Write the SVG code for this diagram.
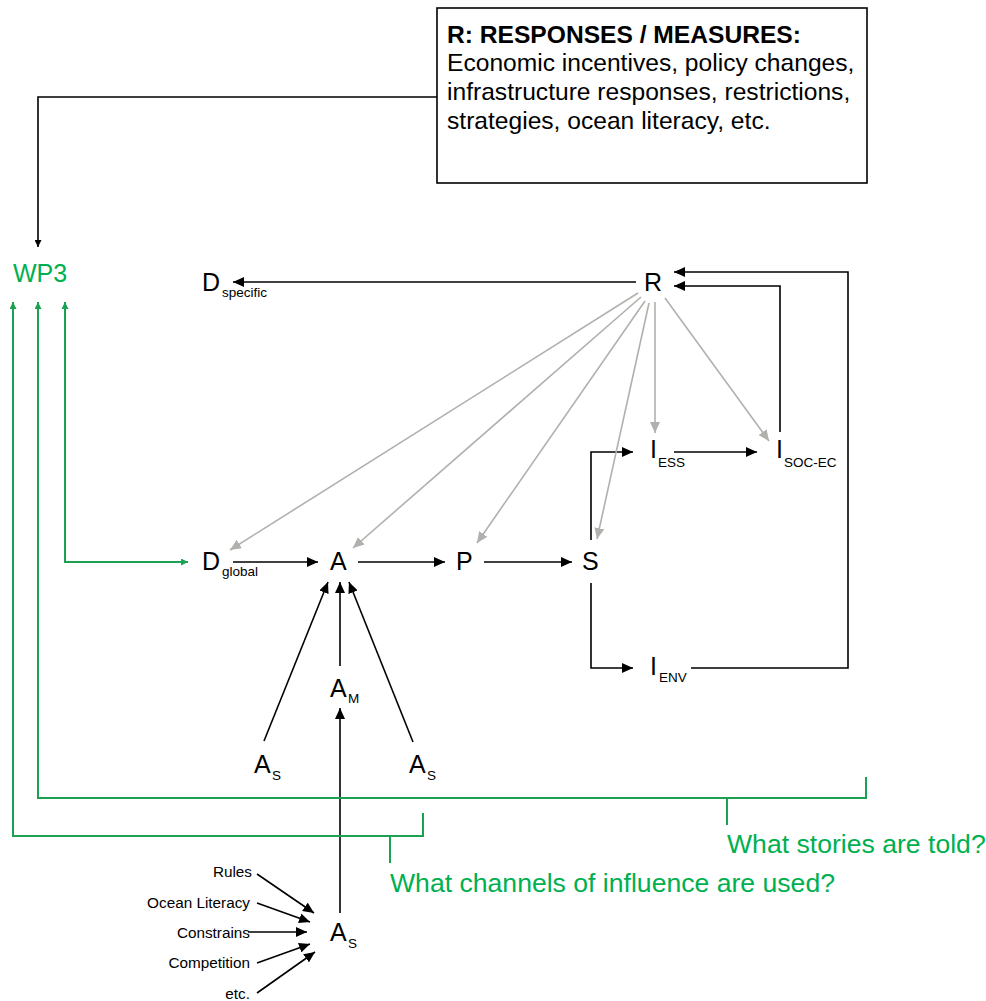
<svg xmlns="http://www.w3.org/2000/svg" width="986" height="1001" viewBox="0 0 986 1001">
<style>
text{font-family:"Liberation Sans",Arial,sans-serif;fill:#000}
.n{font-size:25px}
.sub{font-size:13.5px}
.box{font-size:24.6px}
.g{fill:#00b050}
.q{font-size:26.6px}
.lbl{font-size:15.3px;text-anchor:end}
.k{stroke:#000;stroke-width:1.6;fill:none}
.gr{stroke:#b0b0ad;stroke-width:1.6;fill:none}
.gn{stroke:#1ba152;stroke-width:2;fill:none}
</style>
<defs>
<marker id="ak" markerUnits="userSpaceOnUse" markerWidth="11" markerHeight="10" refX="11" refY="5" orient="auto"><path d="M0,0 L11,5 L0,10 z" fill="#000"/></marker>
<marker id="ag" markerUnits="userSpaceOnUse" markerWidth="11" markerHeight="10" refX="11" refY="5" orient="auto"><path d="M0,0 L11,5 L0,10 z" fill="#b0b0ad"/></marker>
<marker id="aks" markerUnits="userSpaceOnUse" markerWidth="7" markerHeight="7" refX="7" refY="3.5" orient="auto"><path d="M0,0 L7,3.5 L0,7 z" fill="#000"/></marker>
<marker id="agn" markerUnits="userSpaceOnUse" markerWidth="7" markerHeight="7" refX="7" refY="3.5" orient="auto-start-reverse"><path d="M0,0 L7,3.5 L0,7 z" fill="#1ba152"/></marker>
</defs>

<g id="box">
<rect x="437" y="8" width="430" height="175" fill="#fff" stroke="#000" stroke-width="1.6"/>
<text class="box" x="447" y="43" font-weight="bold">R: RESPONSES / MEASURES:</text>
<text class="box" x="447" y="71">Economic incentives, policy changes,</text>
<text class="box" x="447" y="100">infrastructure responses, restrictions,</text>
<text class="box" x="447" y="129">strategies, ocean literacy, etc.</text>
</g>

<g id="WP3"><text class="n g" x="13" y="282" font-size="26">WP3</text></g>
<g id="Dspecific"><text class="n" x="202" y="291">D</text><text class="sub" x="222" y="297">specific</text></g>
<g id="R"><text class="n" x="644" y="291">R</text></g>
<g id="Dglobal"><text class="n" x="202" y="570">D</text><text class="sub" x="222" y="576">global</text></g>
<g id="A"><text class="n" x="330" y="570">A</text></g>
<g id="P"><text class="n" x="456" y="570">P</text></g>
<g id="S"><text class="n" x="582" y="570">S</text></g>
<g id="IESS"><text class="n" x="650" y="458">I</text><text class="sub" x="658" y="467">ESS</text></g>
<g id="ISOCEC"><text class="n" x="776" y="458">I</text><text class="sub" x="784" y="467">SOC-EC</text></g>
<g id="IENV"><text class="n" x="650" y="675">I</text><text class="sub" x="659" y="682">ENV</text></g>
<g id="AM"><text class="n" x="330" y="697">A</text><text class="sub" x="348" y="703">M</text></g>
<g id="AS1"><text class="n" x="254" y="773">A</text><text class="sub" x="272" y="780">S</text></g>
<g id="AS2"><text class="n" x="409" y="773">A</text><text class="sub" x="427" y="780">S</text></g>
<g id="AS3"><text class="n" x="330" y="941">A</text><text class="sub" x="348" y="948">S</text></g>
<g id="factors">
<text class="lbl" x="252" y="877">Rules</text>
<text class="lbl" x="250" y="908">Ocean Literacy</text>
<text class="lbl" x="250" y="938">Constrains</text>
<text class="lbl" x="250" y="968">Competition</text>
<text class="lbl" x="250" y="999">etc.</text>
</g>
<g id="questions">
<text class="g q" x="727" y="853">What stories are told?</text>
<text class="g q" x="390" y="892">What channels of influence are used?</text>
</g>

<g id="connectors">
<path class="k" d="M437,97 H38 V247" marker-end="url(#aks)"/>
<path class="k" d="M636,282 H233" marker-end="url(#ak)"/>
<path class="k" d="M691,668 H848 V272 H674" marker-end="url(#ak)"/>
<path class="k" d="M780,432 V286 H674" marker-end="url(#ak)"/>
<path class="k" d="M674,452 H757" marker-end="url(#ak)"/>
<path class="k" d="M591,540 V452 H633" marker-end="url(#ak)"/>
<path class="k" d="M591,583 V668 H633" marker-end="url(#ak)"/>
<path class="k" d="M233,562 H318" marker-end="url(#ak)"/>
<path class="k" d="M358,562 H445" marker-end="url(#ak)"/>
<path class="k" d="M484,562 H572" marker-end="url(#ak)"/>
<path class="k" d="M340,666 V582" marker-end="url(#ak)"/>
<path class="k" d="M264,741 L328,582" marker-end="url(#ak)"/>
<path class="k" d="M413,742 L349,582" marker-end="url(#ak)"/>
<path class="k" d="M340,913 V708" marker-end="url(#ak)"/>
<path class="k" d="M257,874 L314,913" marker-end="url(#ak)"/>
<path class="k" d="M257,903 L310,922" marker-end="url(#ak)"/>
<path class="k" d="M248,932 L307,932" marker-end="url(#ak)"/>
<path class="k" d="M257,963 L310,944" marker-end="url(#ak)"/>
<path class="k" d="M257,993 L315,952" marker-end="url(#ak)"/>
<path class="gr" d="M638,293 L230,550" marker-end="url(#ag)"/>
<path class="gr" d="M641,297 L353,548" marker-end="url(#ag)"/>
<path class="gr" d="M645,301 L477,543" marker-end="url(#ag)"/>
<path class="gr" d="M649,303 L597,539" marker-end="url(#ag)"/>
<path class="gr" d="M655,302 V433" marker-end="url(#ag)"/>
<path class="gr" d="M665,298 L769,441" marker-end="url(#ag)"/>
<path class="gn" d="M65,302 V562 H188" marker-start="url(#agn)" marker-end="url(#agn)"/>
<path class="gn" d="M38,302 V798 H866 V777" marker-start="url(#agn)"/>
<path class="gn" d="M13,302 V836 H423 V813" marker-start="url(#agn)"/>
<path class="gn" d="M727,798 V825"/>
<path class="gn" d="M390,836 V863"/>
</g>
</svg>
